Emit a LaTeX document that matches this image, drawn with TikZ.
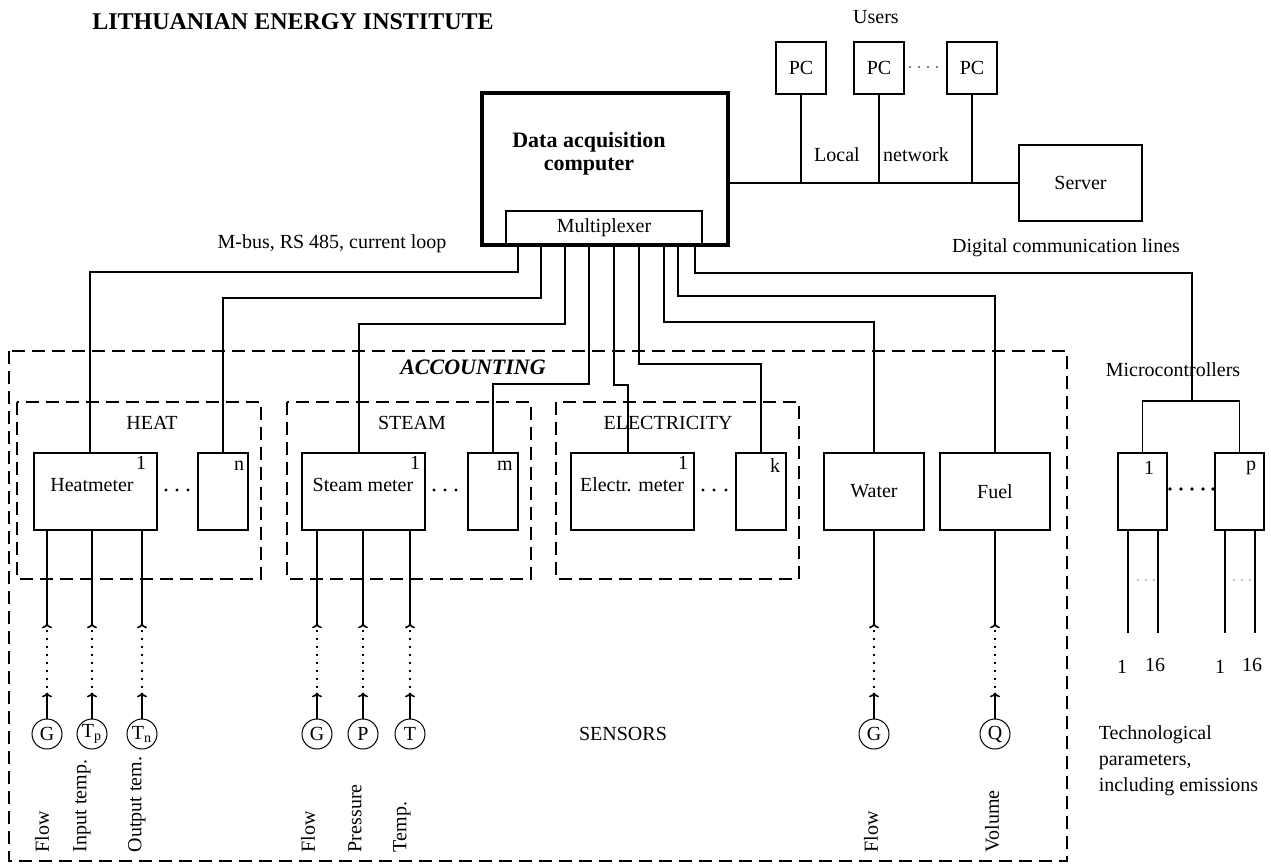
\documentclass[tikz,border=0pt]{standalone}
\usepackage{fontspec}
\setmainfont{Liberation Serif}
\usetikzlibrary{arrows.meta}
\begin{document}
\begin{tikzpicture}[x=0.5pt,y=-0.5pt,line width=0.8pt,
  every node/.style={font=\fontsize{10}{12}\selectfont,inner sep=1pt},
  box/.style={draw,inner sep=0pt,minimum height=38.5pt},
  pcbox/.style={draw,inner sep=0pt,minimum width=25pt,minimum height=26pt},
  group/.style={line width=0.7pt,dash pattern=on 6.5pt off 3.5pt},
  sensor/.style={draw,circle,line width=0.5pt,minimum size=15pt,inner sep=0pt},
  sensortip/.style={-{To[length=2.4pt,width=5pt]}},
  vlabel/.style={rotate=90,anchor=west,inner sep=0pt},
  dotline/.style={line width=0.8pt,dash pattern=on 0.7pt off 3.3pt}]
\useasboundingbox (0,0) rectangle (1271,864);
\node[font=\fontsize{12}{14}\selectfont\bfseries] (title) at (293,22) {LITHUANIAN ENERGY INSTITUTE};
% computer, users and server
\node[box,line width=1.6pt,minimum width=123pt,minimum height=76pt] (dac) at (605,169) {};
\node[align=center,font=\fontsize{11}{11.5}\selectfont\bfseries] (dactext) at (589,154) {Data acquisition\\computer};
\node[box,minimum width=98pt,minimum height=17pt] (mux) at (604,228) {Multiplexer};
\node (users) at (876,17) {Users};
\node[pcbox] (pc1) at (801,68) {PC};
\node[pcbox] (pc2) at (879,68) {PC};
\node[pcbox] (pc3) at (972,68) {PC};
\node[box,minimum width=61.5pt,minimum height=38pt] (server) at (1080.5,183) {Server};
\draw (server.west) -- (server.west -| dac.east);
\draw (pc1.south) -- (pc1.south |- server.west);
\draw (pc2.south) -- (pc2.south |- server.west);
\draw (pc3.south) -- (pc3.south |- server.west);
\fill (910,67) circle (0.4pt) (919,67) circle (0.4pt) (928,67) circle (0.4pt) (937,67) circle (0.4pt);
\node (local) at (837,155) {Local};
\node (network) at (916,155) {network};
\node (digital) at (1066,248) {Digital communication lines};
\node (mbus) at (332,244) {M-bus, RS 485, current loop};
% accounting
\draw[group] (9,351) rectangle (1067,861);
\node[font=\fontsize{11}{13}\selectfont\bfseries\itshape] (accounting) at (473,367) {ACCOUNTING};
\draw[group] (17,402) rectangle (261,579);
\draw[group] (287,402) rectangle (531,579);
\draw[group] (556,402) rectangle (799,579);
\node (heat) at (152,423) {HEAT};
\node (steam) at (412,423) {STEAM};
\node (electricity) at (668,423) {ELECTRICITY};
\node[box,minimum width=61.5pt] (hm1) at (95.5,491.5) {};
\node[box,minimum width=25pt] (hmn) at (223,491.5) {};
\node[box,minimum width=61.5pt] (sm1) at (363.5,491.5) {};
\node[box,minimum width=25pt] (smm) at (493,491.5) {};
\node[box,minimum width=61.5pt] (em1) at (632.5,491.5) {};
\node[box,minimum width=25pt] (emk) at (761,491.5) {};
\node[box,minimum width=50pt] (water) at (874,491.5) {Water};
\node[box,minimum width=55pt] (fuel) at (995,491.5) {Fuel};
\node (hm1lbl) at (92,485) {Heatmeter};
\node (sm1lbl) at (363,485) {Steam meter};
\node (em1lbl) at (632,485) {Electr. meter};
\node[inner sep=0pt] (hm1no) at (141,463) {1};
\node[inner sep=0pt] (sm1no) at (415,463) {1};
\node[inner sep=0pt] (em1no) at (683,463) {1};
\node[inner sep=0pt] (hmnno) at (239,466) {n};
\node[inner sep=0pt] (smmno) at (505,466) {m};
\node[inner sep=0pt] (emkno) at (775,466) {k};
\fill (166,490) circle (0.8pt) (177,490) circle (0.8pt) (188,490) circle (0.8pt);
\fill (434,490) circle (0.8pt) (445,490) circle (0.8pt) (456,490) circle (0.8pt);
\fill (703,490) circle (0.8pt) (714,490) circle (0.8pt) (726,490) circle (0.8pt);
% multiplexer lines
\coordinate (p1) at (518,245);
\coordinate (p2) at (541,245);
\coordinate (p3) at (565,245);
\coordinate (p4) at (589,245);
\coordinate (p5) at (614,245);
\coordinate (p6) at (639,245);
\coordinate (p7) at (664,245);
\coordinate (p8) at (678,245);
\coordinate (p9) at (695,245);
\coordinate (mcjoin) at (1192,401);
\draw (p1) -- ++(0,27) -| ([xshift=-2.75pt]hm1.north);
\draw (p2) -- ++(0,53) -| (hmn.north);
\draw (p3) -- ++(0,79) -| ([xshift=-2.25pt]sm1.north);
\draw (p4) -- ++(0,139) -| (smm.north);
\draw (p5) -- ++(0,140) -| ([xshift=-2.25pt]em1.north);
\draw (p6) -- ++(0,119) -| (emk.north);
\draw (p7) -- ++(0,77) -| (water.north);
\draw (p8) -- ++(0,51) -| (fuel.north);
\draw (p9) -- ++(0,28) -| (mcjoin);
% sensors
\node[sensor] (hflow) at (47,734) {G};
\node[sensor] (htin) at (92,734) {\makebox[0pt]{T\textsubscript{p}}};
\node[sensor] (htout) at (142,734) {\makebox[0pt]{T\textsubscript{n}}};
\node[sensor] (sflow) at (317,734) {G};
\node[sensor] (spres) at (363,734) {P};
\node[sensor] (stemp) at (410,734) {T};
\node[sensor] (wflow) at (874,734) {G};
\node[sensor] (fvol) at (995,734) {Q};
\draw[sensortip] (hflow.north) -- ++(0,-26);
\draw[sensortip] (htin.north) -- ++(0,-26);
\draw[sensortip] (htout.north) -- ++(0,-26);
\draw[sensortip] (sflow.north) -- ++(0,-26);
\draw[sensortip] (spres.north) -- ++(0,-26);
\draw[sensortip] (stemp.north) -- ++(0,-26);
\draw[sensortip] (wflow.north) -- ++(0,-26);
\draw[sensortip] (fvol.north) -- ++(0,-26);
\draw[dotline,sensortip] (hflow.north) ++(0,-31) -- ++(0,-64);
\draw[dotline,sensortip] (htin.north) ++(0,-31) -- ++(0,-64);
\draw[dotline,sensortip] (htout.north) ++(0,-31) -- ++(0,-64);
\draw[dotline,sensortip] (sflow.north) ++(0,-31) -- ++(0,-64);
\draw[dotline,sensortip] (spres.north) ++(0,-31) -- ++(0,-64);
\draw[dotline,sensortip] (stemp.north) ++(0,-31) -- ++(0,-64);
\draw[dotline,sensortip] (wflow.north) ++(0,-31) -- ++(0,-64);
\draw[dotline,sensortip] (fvol.north) ++(0,-31) -- ++(0,-64);
\draw (hflow |- hm1.south) -- ++(0,93);
\draw (htin |- hm1.south) -- ++(0,93);
\draw (htout |- hm1.south) -- ++(0,93);
\draw (sflow |- sm1.south) -- ++(0,93);
\draw (spres |- sm1.south) -- ++(0,93);
\draw (stemp |- sm1.south) -- ++(0,93);
\draw (wflow |- water.south) -- ++(0,93);
\draw (fvol |- fuel.south) -- ++(0,93);
\node[vlabel] (hflowlbl) at (42,853) {Flow};
\node[vlabel] (htinlbl) at (82,853) {Input temp.};
\node[vlabel] (htoutlbl) at (137,853) {Output tem.};
\node[vlabel] (sflowlbl) at (308,853) {Flow};
\node[vlabel] (spreslbl) at (355,853) {Pressure};
\node[vlabel] (stemplbl) at (402,853) {Temp.};
\node[vlabel] (wflowlbl) at (871,853) {Flow};
\node[vlabel] (fvollbl) at (992,853) {Volume};
\node (sensors) at (623,734) {SENSORS};
% microcontrollers
\node (mctitle) at (1173,370) {Microcontrollers};
\node[box,minimum width=24.5pt] (mc1) at (1142.5,491.5) {};
\node[box,minimum width=24.5pt] (mcp) at (1239.5,491.5) {};
\node (mc1no) at (1149,468) {1};
\node (mcpno) at (1251,468) {p};
\draw (mc1.north) |- (mcjoin) -| (mcp.north);
\fill (1170,489) circle (0.9pt) (1181,489) circle (0.9pt) (1192,489) circle (0.9pt) (1203,489) circle (0.9pt) (1213,489) circle (0.9pt);
\draw ([xshift=5.5pt]mc1.south west) -- ++(0,102);
\draw ([xshift=-5pt]mc1.south east) -- ++(0,102);
\draw ([xshift=5.5pt]mcp.south west) -- ++(0,102);
\draw ([xshift=-5pt]mcp.south east) -- ++(0,102);
\fill (1138,580) circle (0.35pt) (1146,580) circle (0.35pt) (1154,580) circle (0.35pt);
\fill (1234,580) circle (0.35pt) (1242,580) circle (0.35pt) (1250,580) circle (0.35pt);
\node (mc1a) at (1122,667) {1};
\node (mc1b) at (1155,665) {16};
\node (mcpa) at (1220,667) {1};
\node (mcpb) at (1252,665) {16};
\node[anchor=west,align=left,inner sep=0pt,font=\fontsize{10}{13}\selectfont] (techpar) at (1098,761) {Technological\\parameters,\\including emissions};
\end{tikzpicture}
\end{document}
